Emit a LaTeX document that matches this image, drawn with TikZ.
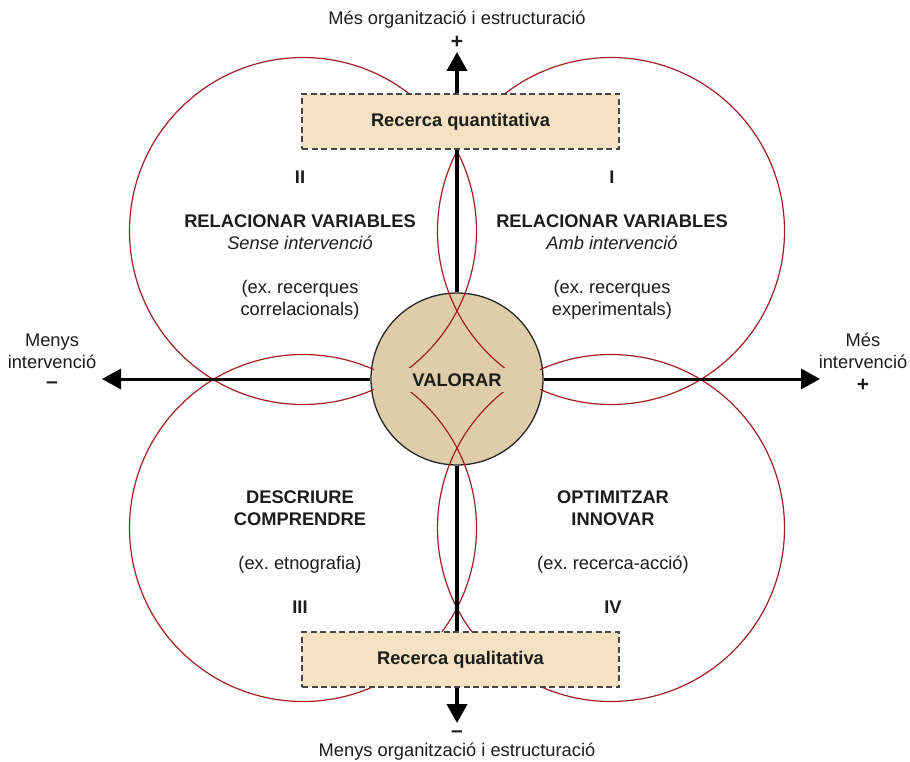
\documentclass[tikz,border=0pt]{standalone}
\usepackage{fontspec}
\setmainfont{Liberation Sans}
\usetikzlibrary{arrows.meta}
\definecolor{ringred}{RGB}{160,30,36}
\definecolor{hubfill}{RGB}{223,205,170}
\definecolor{boxfill}{RGB}{246,226,194}
\definecolor{ink}{RGB}{28,28,28}
\definecolor{dashgray}{RGB}{70,70,70}
\begin{document}
\frenchspacing
\begin{tikzpicture}[x=1pt,y=-1pt,
  txt/.style={font=\fontsize{18.3}{22}\selectfont, text=ink, align=center, inner sep=0pt},
  signst/.style={font=\fontsize{21}{22}\selectfont\bfseries, text=ink, inner sep=0pt},
  ring/.style={draw=ringred, line width=1.2pt},
  hubst/.style={circle, fill=hubfill, draw=black!85, line width=1.3pt, minimum size=172pt, inner sep=0pt},
  bandst/.style={fill=hubfill, minimum width=166pt, minimum height=24pt, inner sep=0pt, font=\fontsize{18.3}{22}\selectfont\bfseries, text=ink},
  boxst/.style={draw=dashgray, dash pattern=on 6pt off 3.5pt, line width=1.3pt, fill=boxfill, minimum width=317pt, minimum height=55pt, inner sep=0pt, font=\fontsize{18.3}{22}\selectfont\bfseries, text=ink},
  vaxis/.style={line width=4pt, black},
  haxis/.style={line width=3pt, black},
  tip/.style={-{Triangle[length=19pt,width=20pt]}}
]
\useasboundingbox (0,0) rectangle (910,762);

% central hub
\node[hubst] (hub) at (457,379) {};

% four rings
\draw[ring] (303,231) circle (173.5pt);
\draw[ring] (611,231) circle (173.5pt);
\draw[ring] (303,528) circle (173.5pt);
\draw[ring] (611,528) circle (173.5pt);

% central label band
\node[bandst] (valorar) at (457,380) {VALORAR};

% boxes
\node[boxst] (quant) at (460.5,121.5) {Recerca quantitativa};
\node[boxst] (qual) at (460.5,659.5) {Recerca qualitativa};

% axis end coordinates
\coordinate (toptip) at (457,52);
\coordinate (bottip) at (457,723);
\coordinate (lefttip) at (102,379);
\coordinate (righttip) at (820,379);

% axes
\draw[vaxis,tip] (quant.north -| hub.center) -- (toptip);
\draw[vaxis] (quant.south -| hub.center) -- (hub.north);
\draw[vaxis] (hub.south) -- (qual.north -| hub.center);
\draw[vaxis,tip] (qual.south -| hub.center) -- (bottip);
\draw[haxis,tip] (hub.west) -- (lefttip);
\draw[haxis,tip] (hub.east) -- (righttip);

% axis labels
\node[txt] (toplabel) at (457,20) {Més organització i estructuració};
\node[signst] (topplus) at (457,42) {+};
\node[signst] (botminus) at (457,734) {–};
\node[txt] (botlabel) at (457,752) {Menys organització i estructuració};
\node[txt] (leftlabel) at (52,351) {Menys\\intervenció};
\node[signst] (leftminus) at (52,385) {–};
\node[txt] (rightlabel) at (863,351) {Més\\intervenció};
\node[signst] (rightplus) at (863,385) {+};

% quadrant texts
\node[txt] (q2) at (300,245) {\textbf{II}\\[22pt]\textbf{RELACIONAR VARIABLES}\\\textit{Sense intervenció}\\[22pt](ex. recerques\\correlacionals)};
\node[txt] (q1) at (612,245) {\textbf{I}\\[22pt]\textbf{RELACIONAR VARIABLES}\\\textit{Amb intervenció}\\[22pt](ex. recerques\\experimentals)};
\node[txt] (q3) at (300,552) {\textbf{DESCRIURE}\\\textbf{COMPRENDRE}\\[22pt](ex. etnografia)\\[22pt]\textbf{III}};
\node[txt] (q4) at (613,552) {\textbf{OPTIMITZAR}\\\textbf{INNOVAR}\\[22pt](ex. recerca-acció)\\[22pt]\textbf{IV}};
\end{tikzpicture}
\end{document}
